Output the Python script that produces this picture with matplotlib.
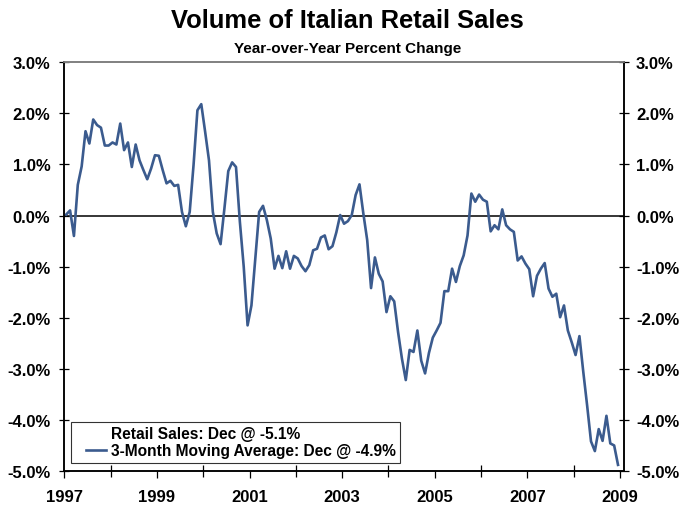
import numpy as np
import matplotlib
matplotlib.use("Agg")
import matplotlib.pyplot as plt
from matplotlib.lines import Line2D
from matplotlib.legend_handler import HandlerLine2D
from matplotlib.ticker import FixedLocator, FuncFormatter

# Italian retail sales volume, 3-month moving average, y/y % change (monthly, Jan 1997 - Dec 2008)
ma3 = [
    0.02, 0.10, -0.40, 0.60, 0.96, 1.65, 1.41, 1.88, 1.77, 1.72, 1.37, 1.37,
    1.43, 1.39, 1.80, 1.28, 1.43, 0.95, 1.39, 1.08, 0.89, 0.71, 0.92, 1.18,
    1.17, 0.89, 0.63, 0.68, 0.58, 0.60, 0.07, -0.21, 0.07, 0.99, 2.06, 2.18,
    1.64, 1.08, 0.07, -0.35, -0.56, 0.14, 0.87, 1.04, 0.95, -0.12, -1.00, -2.15,
    -1.76, -0.84, 0.07, 0.19, -0.09, -0.45, -1.04, -0.79, -1.03, -0.70, -1.04, -0.79,
    -0.84, -0.99, -1.09, -0.97, -0.68, -0.65, -0.43, -0.39, -0.66, -0.60, -0.33, 0.01,
    -0.16, -0.11, 0.01, 0.40, 0.61, 0.04, -0.48, -1.42, -0.82, -1.14, -1.29, -1.89,
    -1.58, -1.68, -2.28, -2.80, -3.22, -2.63, -2.67, -2.25, -2.84, -3.09, -2.69, -2.39,
    -2.25, -2.10, -1.48, -1.48, -1.04, -1.30, -0.99, -0.78, -0.39, 0.43, 0.27, 0.41,
    0.31, 0.27, -0.31, -0.19, -0.27, 0.12, -0.19, -0.27, -0.32, -0.88, -0.80, -0.94,
    -1.05, -1.58, -1.18, -1.04, -0.93, -1.43, -1.59, -1.53, -1.99, -1.76, -2.25, -2.48,
    -2.73, -2.36, -3.06, -3.72, -4.42, -4.61, -4.18, -4.41, -3.92, -4.46, -4.50, -4.88,
]
start_year = 1997
year_labels = [1997, 1999, 2001, 2003, 2005, 2007, 2009]
minor_years = [1998, 2000, 2002, 2004, 2006, 2008]
y_ticks = [3.0, 2.0, 1.0, 0.0, -1.0, -2.0, -3.0, -4.0, -5.0]
legend_labels = ["Retail Sales: Dec @ -5.1%", "3-Month Moving Average: Dec @ -4.9%"]

title = "Volume of Italian Retail Sales"
subtitle = "Year-over-Year Percent Change"

line_color = "#3b5b8e"
body_font = "Liberation Sans"


class ShortLineHandler(HandlerLine2D):
    """Legend line drawn only over the right part of the handle box."""

    def __init__(self, frac=0.65, **kw):
        super().__init__(**kw)
        self.frac = frac

    def create_artists(self, legend, orig_handle, xdescent, ydescent, width, height,
                       fontsize, trans):
        shift = (1 - self.frac) * width
        return super().create_artists(legend, orig_handle, xdescent - shift, ydescent,
                                      width * self.frac, height, fontsize, trans)


t = start_year + (np.arange(len(ma3)) + 0.5) / 12.0

fig = plt.figure(figsize=(6.95, 5.06), dpi=100)
ax = fig.add_axes([0.0925, 0.0672, 0.8055, 0.8078])

ax.plot(t, ma3, color=line_color, lw=1.9, solid_joinstyle="round", zorder=3)
ax.axhline(0, color="black", lw=1.1, zorder=2)

ax.set_xlim(1997, 2009.09)
ax.set_ylim(-5.0, 3.0)

pct = FuncFormatter(lambda v, _: f"{v:.1f}%")
ax.yaxis.set_major_locator(FixedLocator(y_ticks))
ax.yaxis.set_major_formatter(pct)
ax.tick_params(axis="y", direction="inout", length=7, width=0.9, color="black", pad=6.5,
               labelsize=12)

ax.xaxis.set_major_locator(FixedLocator(year_labels))
ax.xaxis.set_minor_locator(FixedLocator(minor_years))
ax.set_xticklabels([str(y) for y in year_labels])
ax.tick_params(axis="x", which="major", direction="out", length=5, width=0.9, pad=8,
               labelsize=12)
ax.tick_params(axis="x", which="minor", direction="inout", length=8, width=0.9)

for lbl in ax.get_xticklabels() + ax.get_yticklabels():
    lbl.set_fontfamily(body_font)
    lbl.set_fontweight("bold")

ax2 = ax.twinx()
ax2.set_ylim(ax.get_ylim())
ax2.yaxis.set_major_locator(FixedLocator(y_ticks))
ax2.yaxis.set_major_formatter(pct)
ax2.tick_params(axis="y", direction="inout", length=7, width=0.9, pad=5, labelsize=12)
for lbl in ax2.get_yticklabels():
    lbl.set_fontfamily(body_font)
    lbl.set_fontweight("bold")

for a in (ax, ax2):
    a.spines["top"].set_color("#808080")
    a.spines["top"].set_linewidth(1.2)
    for s in ("left", "right", "bottom"):
        a.spines[s].set_color("black")
        a.spines[s].set_linewidth(1.1)

handles = [
    Line2D([], [], color="none", lw=1.9),
    Line2D([], [], color=line_color, lw=1.9),
]
leg = ax.legend(handles, legend_labels, loc="lower left", bbox_to_anchor=(0.012, 0.02),
                borderaxespad=0, frameon=True, fancybox=False, handlelength=2.0,
                handletextpad=0.3, borderpad=0.28, labelspacing=0.15,
                handler_map={Line2D: ShortLineHandler(frac=0.65)},
                prop={"family": body_font, "weight": "bold", "size": 11.2})
leg.get_frame().set_edgecolor("black")
leg.get_frame().set_linewidth(0.8)
leg.set_zorder(5)

fig.text(0.5, 0.958, title, ha="center", va="center", fontsize=18.4,
         family=body_font, weight="bold")
fig.text(0.5, 0.904, subtitle, ha="center", va="center", fontsize=11,
         family=body_font, weight="bold")

fig.savefig("out.png", dpi=100)
